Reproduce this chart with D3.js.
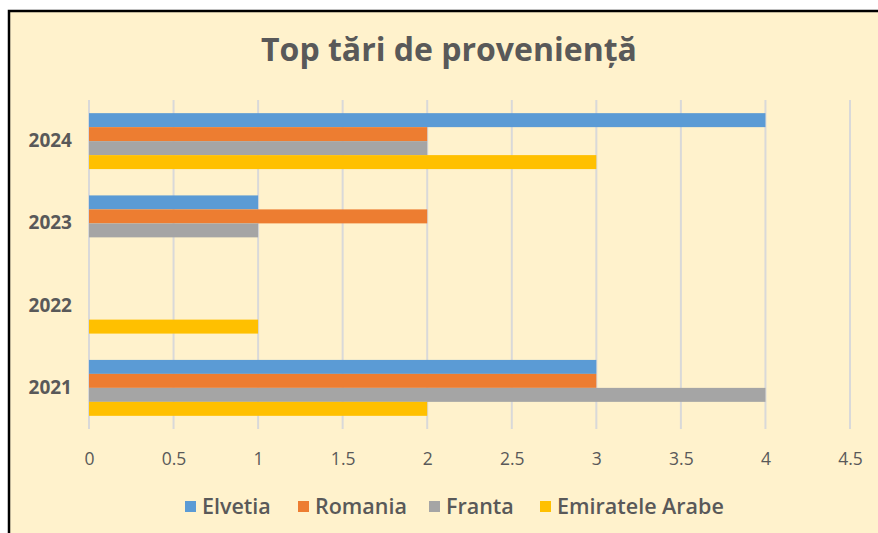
<!DOCTYPE html>
<html>
  <head>
    <meta charset="utf-8">
    <script src="https://cdn.jsdelivr.net/npm/d3@7"></script>
    <style>
      body { margin: 0; background: #fff; }
      text { font-family: "Open Sans", sans-serif; fill: #595959; }
    </style>
  </head>
  <body>
    <div id="chart"></div>

    <script>
      // ========= Data ========= //
      const years = ['2024', '2023', '2022', '2021'];
      const series = ['Elvetia', 'Romania', 'Franta', 'Emiratele Arabe'];
      const colors = ['#5B9BD5', '#ED7D31', '#A5A5A5', '#FFC000'];
      // values per year, in series order
      const elvetia = [4, 1, 0, 3];
      const romania = [2, 2, 0, 3];
      const franta = [2, 1, 0, 4];
      const emirate = [3, 0, 1, 2];
      const ticks = [0, 0.5, 1, 1.5, 2, 2.5, 3, 3.5, 4, 4.5];

      const values = [elvetia, romania, franta, emirate];

      // ========= Setup dimensions ========= //
      const width = 878;
      const height = 533;
      const plot = { left: 89, right: 850, top: 100, bottom: 429 };

      const svg = d3.select('#chart').append('svg')
        .attr('width', width)
        .attr('height', height);

      // ========= Background + frame ========= //
      svg.append('rect')
        .attr('x', 9).attr('y', 11)
        .attr('width', width - 9).attr('height', height - 11)
        .attr('fill', '#FFF2CC');

      svg.append('path')
        .attr('d', `M9,${height} V11 H${width}`)
        .attr('fill', 'none')
        .attr('stroke', '#000')
        .attr('stroke-width', 2.5);

      // ========= Scales ========= //
      const x = d3.scaleLinear()
        .domain([0, 4.5])
        .range([plot.left, plot.right]);

      const y = d3.scaleBand()
        .domain(years)
        .range([plot.top, plot.bottom])
        .paddingInner(0.32)
        .paddingOuter(0.16);

      const inner = d3.scaleBand()
        .domain(series)
        .range([0, y.bandwidth()]);

      // ========= Gridlines ========= //
      svg.append('g')
        .selectAll('line')
        .data(ticks)
        .join('line')
          .attr('x1', d => x(d)).attr('x2', d => x(d))
          .attr('y1', plot.top).attr('y2', plot.bottom)
          .attr('stroke', '#D9D9D9')
          .attr('stroke-width', 2);

      // ========= Bars ========= //
      const groups = svg.append('g')
        .selectAll('g')
        .data(years)
        .join('g')
          .attr('transform', d => `translate(0,${y(d)})`);

      groups.selectAll('rect')
        .data((d, i) => series.map((s, j) => ({ s, j, v: values[j][i] })))
        .join('rect')
          .filter(d => d.v > 0)
          .attr('x', x(0))
          .attr('y', d => inner(d.s))
          .attr('width', d => x(d.v) - x(0))
          .attr('height', inner.bandwidth())
          .attr('fill', d => colors[d.j]);

      // ========= Axes labels ========= //
      const xAxis = svg.append('g')
        .attr('transform', `translate(0,${plot.bottom})`)
        .call(d3.axisBottom(x).tickValues(ticks).tickSize(0).tickPadding(24)
          .tickFormat(d3.format('')));
      xAxis.select('.domain').remove();
      xAxis.selectAll('text')
        .attr('fill', '#595959')
        .style('font-size', '17.5px')
        .style('font-family', '"Open Sans", sans-serif');

      const yAxis = svg.append('g')
        .attr('transform', `translate(72,0)`)
        .call(d3.axisLeft(y).tickSize(0).tickPadding(0));
      yAxis.select('.domain').remove();
      yAxis.selectAll('text')
        .attr('fill', '#595959')
        .style('font-size', '19px')
        .style('font-weight', 'bold')
        .style('font-family', '"Open Sans", sans-serif');

      // ========= Title ========= //
      svg.append('text')
        .attr('x', 449)
        .attr('y', 61)
        .attr('text-anchor', 'middle')
        .style('font-size', '32px')
        .style('font-weight', 'bold')
        .text('Top tări de proveniență');

      // ========= Legend ========= //
      const legendX = [185, 298, 429, 540];
      const legend = svg.append('g')
        .selectAll('g')
        .data(series)
        .join('g')
          .attr('transform', (d, i) => `translate(${legendX[i]},506)`);

      legend.append('rect')
        .attr('x', 0).attr('y', -5)
        .attr('width', 11).attr('height', 11)
        .attr('fill', (d, i) => colors[i]);

      legend.append('text')
        .attr('x', 17)
        .attr('y', 8)
        .style('font-size', '21.5px')
        .style('font-weight', 600)
        .text(d => d);
    </script>
  </body>
</html>
